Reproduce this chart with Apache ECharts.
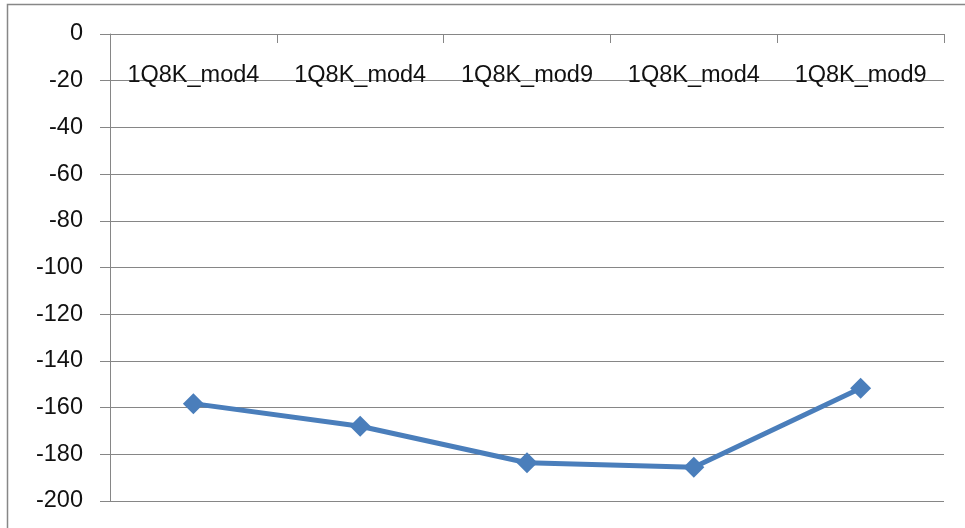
<!DOCTYPE html>
<html><head><meta charset="utf-8">
<script src="https://cdn.jsdelivr.net/npm/echarts@6/dist/echarts.min.js"></script>
<style>html,body{margin:0;padding:0;background:#fff}#c{width:965px;height:528px}</style>
</head><body><div id="c"></div>
<script>
const categories = ['1Q8K_mod4','1Q8K_mod4','1Q8K_mod9','1Q8K_mod4','1Q8K_mod9'];
const values = [-158.3, -168, -183.6, -185.5, -151.7];
const yMin = -200, yMax = 0, yStep = 20;

const chart = echarts.init(document.getElementById('c'));
const font = '"Liberation Sans", Arial, sans-serif';
chart.setOption({
  animation: false,
  backgroundColor: '#fff',
  graphic: [{type:'rect', shape:{x:7.5,y:4.5,width:1100,height:700}, style:{fill:'none', stroke:'#878787', lineWidth:1.5}, silent:true}],
  grid: {left:110, right:21, top:34, bottom:27, containLabel:false},
  xAxis: {
    type:'category', data:categories, position:'top', boundaryGap:true,
    axisLine:{show:true, lineStyle:{color:'#868686', width:1}},
    axisTick:{show:true, inside:true, length:9, interval:0, alignWithLabel:false, lineStyle:{color:'#868686'}},
    axisLabel:{inside:true, interval:0, hideOverlap:false, margin:42, color:'#111', fontFamily:font, fontSize:23.5, verticalAlign:'middle'},
    splitLine:{show:false}
  },
  yAxis: {
    type:'value', min:yMin, max:yMax, interval:yStep,
    axisLine:{show:true, lineStyle:{color:'#868686', width:1}},
    axisTick:{show:true, length:10, lineStyle:{color:'#868686'}},
    axisLabel:{margin:27, color:'#111', fontFamily:font, fontSize:23.5},
    splitLine:{show:true, lineStyle:{color:'#868686', width:1}}
  },
  series: [{
    type:'line', data:values, symbol:'diamond', symbolSize:21,
    lineStyle:{color:'#4A7EBB', width:5},
    itemStyle:{color:'#4A7EBB'}
  }]
});
</script></body></html>
